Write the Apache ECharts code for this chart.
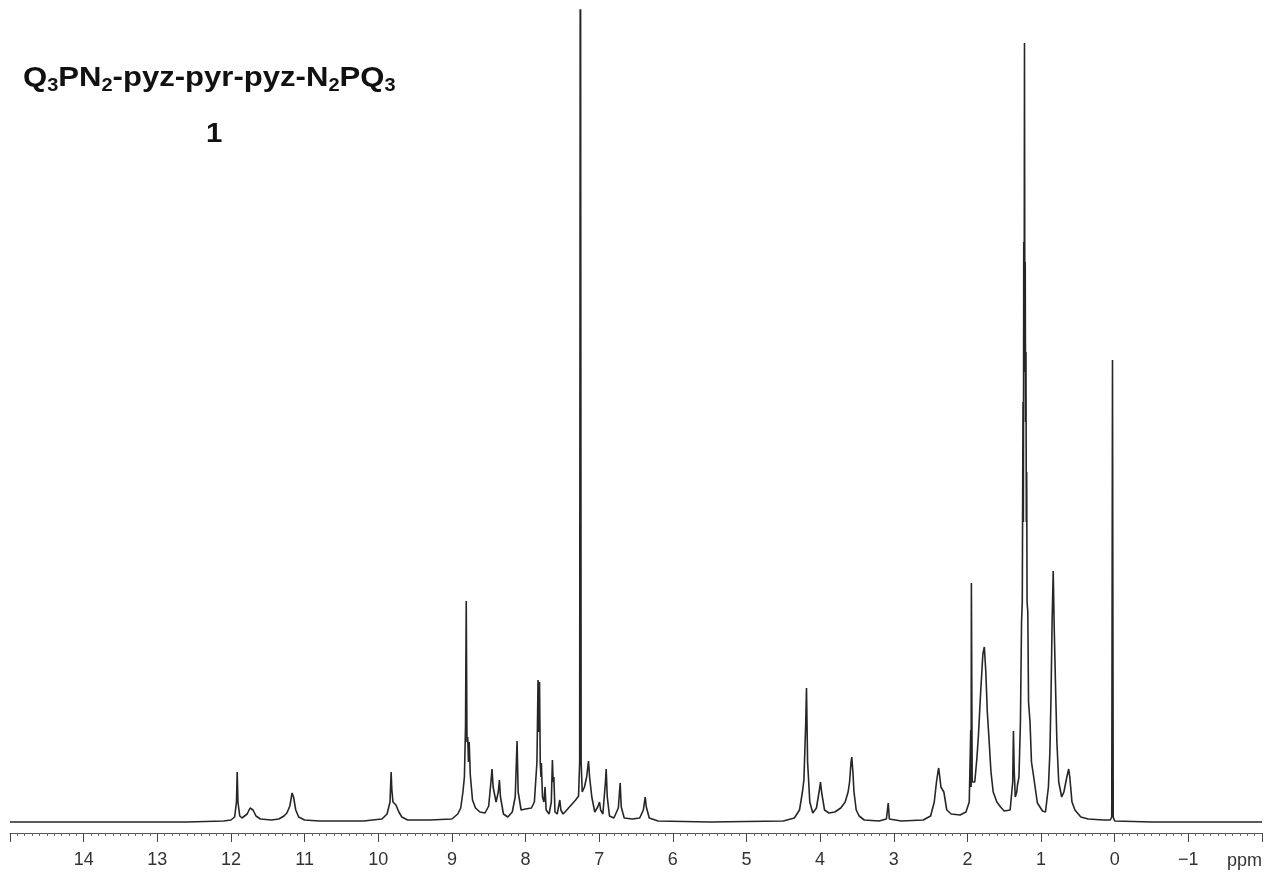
<!DOCTYPE html>
<html>
<head>
<meta charset="utf-8">
<title>1H NMR spectrum</title>
<script src="https://cdn.jsdelivr.net/npm/echarts@6/dist/echarts.min.js"></script>
<style>
  html, body { margin: 0; padding: 0; background: #fff; }
  #chart { width: 1268px; height: 876px; }
</style>
</head>
<body>
<div id="chart"></div>
<script>
// Chemical shift (ppm) of each traced vertex of the spectrum trace
const shiftPpm = [
  15.0, 12.6, 12.1, 12.0, 11.95, 11.925, 11.915, 11.905, 11.88, 11.85,
  11.78, 11.74, 11.72, 11.70, 11.66, 11.60, 11.45, 11.35, 11.28, 11.24,
  11.20, 11.17, 11.15, 11.12, 11.08, 11.00, 10.8, 10.2, 9.95, 9.88,
  9.84, 9.825, 9.815, 9.80, 9.76, 9.72, 9.68, 9.6, 9.3, 9.0,
  8.92, 8.88, 8.85, 8.83, 8.815, 8.805, 8.795, 8.785, 8.775, 8.765,
  8.75, 8.72, 8.68, 8.62, 8.55, 8.50, 8.47, 8.455, 8.44, 8.40,
  8.37, 8.355, 8.34, 8.30, 8.24, 8.18, 8.14, 8.115, 8.10, 8.06,
  8.00, 7.92, 7.88, 7.845, 7.83, 7.82, 7.81, 7.80, 7.79, 7.785,
  7.77, 7.75, 7.735, 7.72, 7.68, 7.65, 7.635, 7.625, 7.615, 7.60,
  7.57, 7.535, 7.52, 7.49, 7.44, 7.38, 7.32, 7.28, 7.265, 7.255,
  7.245, 7.23, 7.20, 7.17, 7.145, 7.13, 7.10, 7.06, 7.02, 6.995,
  6.98, 6.95, 6.915, 6.905, 6.89, 6.86, 6.80, 6.74, 6.715, 6.70,
  6.66, 6.55, 6.45, 6.40, 6.375, 6.36, 6.32, 6.2, 5.5, 4.5,
  4.35, 4.28, 4.24, 4.22, 4.195, 4.185, 4.17, 4.14, 4.10, 4.05,
  4.01, 3.995, 3.98, 3.94, 3.88, 3.80, 3.72, 3.66, 3.62, 3.60,
  3.58, 3.57, 3.555, 3.54, 3.51, 3.47, 3.40, 3.2, 3.10, 3.075,
  3.06, 2.9, 2.6, 2.5, 2.45, 2.42, 2.40, 2.39, 2.375, 2.36,
  2.335, 2.32, 2.28, 2.22, 2.10, 2.02, 1.975, 1.955, 1.95, 1.946,
  1.935, 1.90, 1.87, 1.85, 1.82, 1.79, 1.77, 1.75, 1.73, 1.71,
  1.68, 1.65, 1.60, 1.55, 1.50, 1.42, 1.385, 1.375, 1.365, 1.35,
  1.33, 1.32, 1.30, 1.28, 1.265, 1.255, 1.245, 1.24, 1.235, 1.23,
  1.225, 1.22, 1.215, 1.21, 1.205, 1.20, 1.195, 1.19, 1.18, 1.17,
  1.15, 1.13, 1.10, 1.05, 0.98, 0.94, 0.90, 0.88, 0.865, 0.85,
  0.835, 0.82, 0.80, 0.785, 0.76, 0.72, 0.69, 0.65, 0.625, 0.61,
  0.58, 0.54, 0.46, 0.36, 0.15, 0.06, 0.04, 0.03, 0.02, 0.0,
  -0.5, -2.0
];

// Signal intensity (arbitrary units) at each vertex above
const intensity = [
  0, 0, 1, 2, 5, 20, 50, 20, 6, 4,
  8, 14, 15, 12, 6, 3, 2, 3, 6, 9,
  16, 29, 25, 12, 5, 2, 1, 1, 3, 8,
  20, 50, 32, 20, 17, 10, 5, 2, 2, 3,
  8, 14, 30, 45, 95, 221, 80, 85, 60, 80,
  47, 22, 14, 10, 9, 16, 40, 53, 35, 20,
  30, 42, 25, 8, 5, 10, 25, 81, 30, 12,
  13, 14, 20, 60, 142, 90, 140, 59, 45, 59,
  25, 20, 35, 12, 8, 20, 62, 40, 45, 10,
  8, 22, 12, 8, 12, 17, 22, 26, 60, 1100,
  60, 30, 35, 45, 61, 45, 25, 10, 15, 20,
  12, 8, 40, 53, 25, 6, 4, 14, 39, 15,
  4, 3, 4, 12, 25, 15, 4, 1, 0, 1,
  4, 12, 30, 42, 100, 134, 60, 20, 9, 14,
  32, 40, 30, 12, 9, 10, 14, 20, 30, 40,
  60, 65, 50, 30, 12, 6, 2, 1, 3, 19,
  3, 1, 2, 6, 20, 40, 50, 54, 45, 35,
  37, 30, 12, 8, 7, 10, 20, 92, 35, 239,
  40, 40, 65, 87, 130, 168, 175, 150, 110, 87,
  50, 30, 20, 15, 11, 12, 40, 91, 52, 25,
  30, 37, 45, 100, 200, 220, 420, 300, 580, 450,
  779, 500, 560, 400, 470, 300, 350, 220, 210, 120,
  100, 60, 45, 19, 11, 10, 35, 70, 125, 200,
  251, 190, 125, 80, 40, 25, 30, 45, 53, 45,
  20, 12, 5, 3, 2, 2, 5, 462, 5, 1,
  0, 0
];

// Axis range and tick labels
const axisMin = -2;
const axisMax = 15;
const tickLabels = ['14', '13', '12', '11', '10', '9', '8', '7', '6', '5', '4', '3', '2', '1', '0', '\u22121'];

const spectrum = shiftPpm.map((x, i) => [x, intensity[i]]);
const labelSet = new Set(tickLabels);

const chart = echarts.init(document.getElementById('chart'), null, { renderer: 'canvas' });
const fontFamily = '"Liberation Sans", Arial, Helvetica, sans-serif';

chart.setOption({
  backgroundColor: '#ffffff',
  animation: false,
  grid: { left: 10, right: 6, top: 10, bottom: 43 },
  xAxis: {
    type: 'value',
    inverse: true,
    min: axisMin,
    max: axisMax,
    interval: 1,
    axisLine: { show: true, onZero: false, lineStyle: { color: '#555', width: 1 } },
    axisTick: { show: true, length: 9, lineStyle: { color: '#444', width: 1 } },
    minorTick: { show: true, splitNumber: 10, length: 3, lineStyle: { color: '#666', width: 1 } },
    splitLine: { show: false },
    axisLabel: {
      margin: 18,
      fontFamily,
      fontSize: 18,
      color: '#333',
      formatter: function (v) {
        const s = v < 0 ? '\u2212' + Math.abs(v) : String(v);
        return labelSet.has(s) ? s : '';
      }
    }
  },
  yAxis: {
    type: 'value',
    show: false,
    min: -11,
    max: 812,
    splitLine: { show: false }
  },
  graphic: [
    {
      // compound name with subscripts
      type: 'text',
      x: 23,
      y: 61,
      scaleX: 1.11,
      style: {
        text: '{b|Q}{s|3}{b|PN}{s|2}{b|-pyz-pyr-pyz-N}{s|2}{b|PQ}{s|3}',
        rich: {
          b: { fontFamily, fontSize: 28, fontWeight: 'bold', fill: '#111', lineHeight: 34, verticalAlign: 'middle' },
          s: { fontFamily, fontSize: 18, fontWeight: 'bold', fill: '#111', lineHeight: 18, verticalAlign: 'bottom' }
        }
      }
    },
    {
      type: 'text',
      x: 206,
      y: 117,
      scaleX: 1.05,
      style: { text: '1', fontFamily, fontSize: 28, fontWeight: 'bold', fill: '#111', lineHeight: 34 }
    },
    {
      type: 'text',
      right: 6,
      top: 852,
      style: { text: 'ppm', fontFamily, fontSize: 18, fill: '#333' }
    }
  ],
  series: [
    {
      type: 'line',
      data: spectrum,
      showSymbol: false,
      symbol: 'none',
      smooth: false,
      clip: true,
      lineStyle: { color: '#262626', width: 1.6 },
      emphasis: { disabled: true }
    }
  ]
});
</script>
</body>
</html>
